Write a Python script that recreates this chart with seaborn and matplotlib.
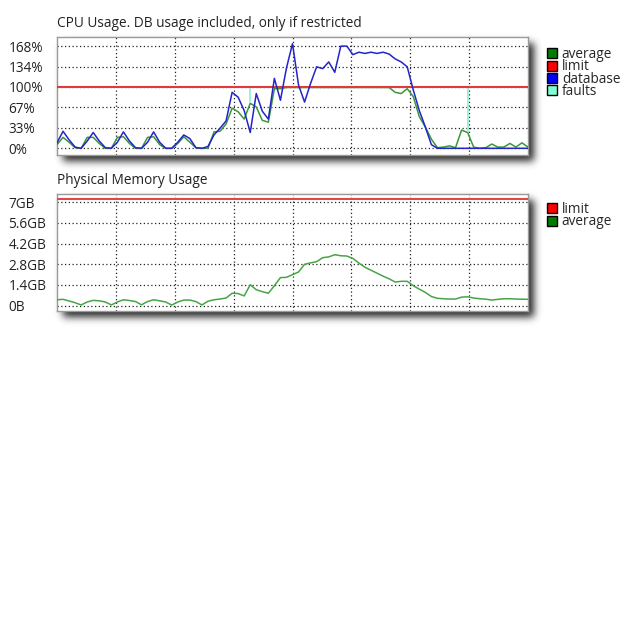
import numpy as np
import pandas as pd
import seaborn as sns
import matplotlib.pyplot as plt
from matplotlib.patches import Patch

# CPU usage (%), one value per sample
cpu_database = [9, 28, 14, 2, 0, 12, 26, 12, 1, 0, 10, 27, 12, 1, 0, 10, 27, 10, 0, 0,
                10, 22, 16, 1, 0, 3,
                22, 33, 45, 92, 84, 62, 26, 90, 61, 48,
                115, 79, 132, 172, 104, 76, 107, 134, 131, 142, 125, 168, 168, 154, 158,
                156, 158, 156, 158, 155, 147, 142, 134,
                96, 62, 35, 6, 0, 0, 0, 0, 0, 0, 0, 0, 0, 0, 0, 0, 0, 0, 0, 0]
cpu_average = [6, 18, 10, 1, 0, 18, 18, 8, 0, 0, 18, 19, 8, 0, 0, 18, 19, 6, 0, 0,
               8, 19, 10, 1, 0, 0,
               27, 28, 40, 66, 60, 48, 74, 68, 46, 43,
               98, 98, 100, 100, 100, 100, 100, 100, 100, 100, 100, 100, 100, 100, 100,
               100, 100, 100, 100, 100, 92, 90, 98,
               85, 52, 35, 15, 1, 2, 4, 1, 30, 26, 2, 0, 1, 7, 2, 2, 8, 2, 9, 2]
cpu_limit = 100
fault_samples = [32, 68]

# physical memory (GB)
mem_average = [0.40, 0.43, 0.32, 0.20, 0.05, 0.25, 0.36, 0.33, 0.25, 0.05, 0.25, 0.40, 0.35,
               0.28, 0.06, 0.28, 0.40, 0.33, 0.25, 0.04, 0.25, 0.38, 0.38, 0.28, 0.05, 0.30,
               0.40, 0.45, 0.52, 0.84, 0.82, 0.66, 1.42, 1.08, 0.95, 0.84,
               1.35, 1.90, 1.92, 2.10, 2.28, 2.80, 2.90, 2.98, 3.25, 3.30, 3.45, 3.38, 3.36,
               3.20, 2.88, 2.60, 2.40, 2.20, 2.00, 1.82, 1.60, 1.65, 1.65,
               1.35, 1.12, 0.90, 0.62, 0.50, 0.47, 0.45, 0.45, 0.58, 0.60, 0.52, 0.47, 0.44,
               0.38, 0.43, 0.47, 0.47, 0.45, 0.44, 0.43]
mem_limit = 7.2

cpu_ticks = [0, 33.6, 67.2, 100.8, 134.4, 168]
cpu_tick_labels = ['0%', '33%', '67%', '100%', '134%', '168%']
mem_ticks = [0, 1.4, 2.8, 4.2, 5.6, 7.0]
mem_tick_labels = ['0B', '1.4GB', '2.8GB', '4.2GB', '5.6GB', '7GB']

sns.set_style('white')
plt.rcParams['font.family'] = ['Open Sans', 'DejaVu Sans']

W, H = 632, 640
fig = plt.figure(figsize=(W / 100, H / 100), dpi=100)
shadow = np.zeros((H, W))

def px_axes(left, top, right, bottom):
    return fig.add_axes([left / W, 1 - bottom / H, (right - left) / W, (bottom - top) / H])

def add_shadow(left, top, right, bottom, off=6):
    # drop shadow box, blurred later
    shadow[top + off:bottom + off, left + off:right + off] = 1.0

def blur(img, sigma=4.0):
    r = int(3 * sigma)
    k = np.exp(-0.5 * (np.arange(-r, r + 1) / sigma) ** 2)
    k /= k.sum()
    img = np.apply_along_axis(lambda v: np.convolve(v, k, mode='same'), 0, img)
    return np.apply_along_axis(lambda v: np.convolve(v, k, mode='same'), 1, img)

def style_axes(ax, n, ticks, labels, ylim):
    ax.set_xlim(0, n - 1)
    ax.set_ylim(*ylim)
    ax.set_xticks([(n - 1) * k / 8 for k in range(1, 8)])
    ax.set_xticklabels([])
    ax.set_yticks(ticks)
    ax.set_yticklabels(labels)
    ax.set_xlabel('')
    ax.set_ylabel('')
    ax.grid(True, color='#222222', linestyle=(0, (1, 2)), linewidth=0.9)
    ax.tick_params(axis='both', length=0)
    ax.tick_params(axis='y', pad=35, labelsize=9.8, labelcolor='#222222')
    for lbl in ax.get_yticklabels():
        lbl.set_horizontalalignment('left')
    for s in ax.spines.values():
        s.set_color('#9a9a9a')
        s.set_linewidth(1)
    ax.set_facecolor('white')

legend_kw = dict(loc='upper left', frameon=False, fontsize=9.8, handlelength=0.75,
                 handleheight=0.75, handletextpad=0.35, labelspacing=-0.2,
                 borderpad=0, borderaxespad=0)

# ---- CPU chart ----
n = len(cpu_database)
cpu = pd.DataFrame({'sample': np.arange(n), 'database': cpu_database, 'average': cpu_average})
ax1 = px_axes(57, 37, 528, 155)
add_shadow(57, 37, 528, 155)
sns.lineplot(data=cpu, x='sample', y='average', ax=ax1, color='#3a973a', linewidth=1.1, zorder=3)
ax1.vlines(fault_samples, [cpu_average[i] for i in fault_samples], cpu_limit,
           color='#9ef0dc', linewidth=1.4, zorder=3.5)
ax1.axhline(cpu_limit, color='#e03a3a', linewidth=1.5, zorder=4)
sns.lineplot(data=cpu, x='sample', y='database', ax=ax1, color='#2424c8', linewidth=1.1, zorder=5)
style_axes(ax1, n, cpu_ticks, cpu_tick_labels, (-11, 183))
ax1.set_title('CPU Usage. DB usage included, only if restricted', loc='left',
              fontsize=9.8, color='#222222', pad=7)

cpu_handles = [Patch(facecolor='#007a00', edgecolor='black', label='average'),
               Patch(facecolor='#ff0000', edgecolor='black', label='limit'),
               Patch(facecolor='#0000ff', edgecolor='black', label='database'),
               Patch(facecolor='#80ffd4', edgecolor='black', label='faults')]
ax1.legend(handles=cpu_handles, bbox_to_anchor=(1.04, 0.915), **legend_kw)

# ---- Memory chart ----
m = len(mem_average)
mem = pd.DataFrame({'sample': np.arange(m), 'average': mem_average})
ax2 = px_axes(57, 194, 528, 311)
add_shadow(57, 194, 528, 311)
sns.lineplot(data=mem, x='sample', y='average', ax=ax2, color='#47a447', linewidth=1.1, zorder=3)
ax2.axhline(mem_limit, color='#e04848', linewidth=1.5, zorder=4)
style_axes(ax2, m, mem_ticks, mem_tick_labels, (-0.36, 7.56))
ax2.set_title('Physical Memory Usage', loc='left', fontsize=9.8, color='#222222', pad=7)

mem_handles = [Patch(facecolor='#ff0000', edgecolor='black', label='limit'),
               Patch(facecolor='#007a00', edgecolor='black', label='average')]
ax2.legend(handles=mem_handles, bbox_to_anchor=(1.04, 0.93), **legend_kw)

alpha = blur(shadow) * 0.85
rgba = np.zeros((H, W, 4))
rgba[..., 3] = alpha
fig.figimage(rgba, xo=0, yo=0, origin='upper', zorder=-5)

fig.savefig('out.png', dpi=100)
